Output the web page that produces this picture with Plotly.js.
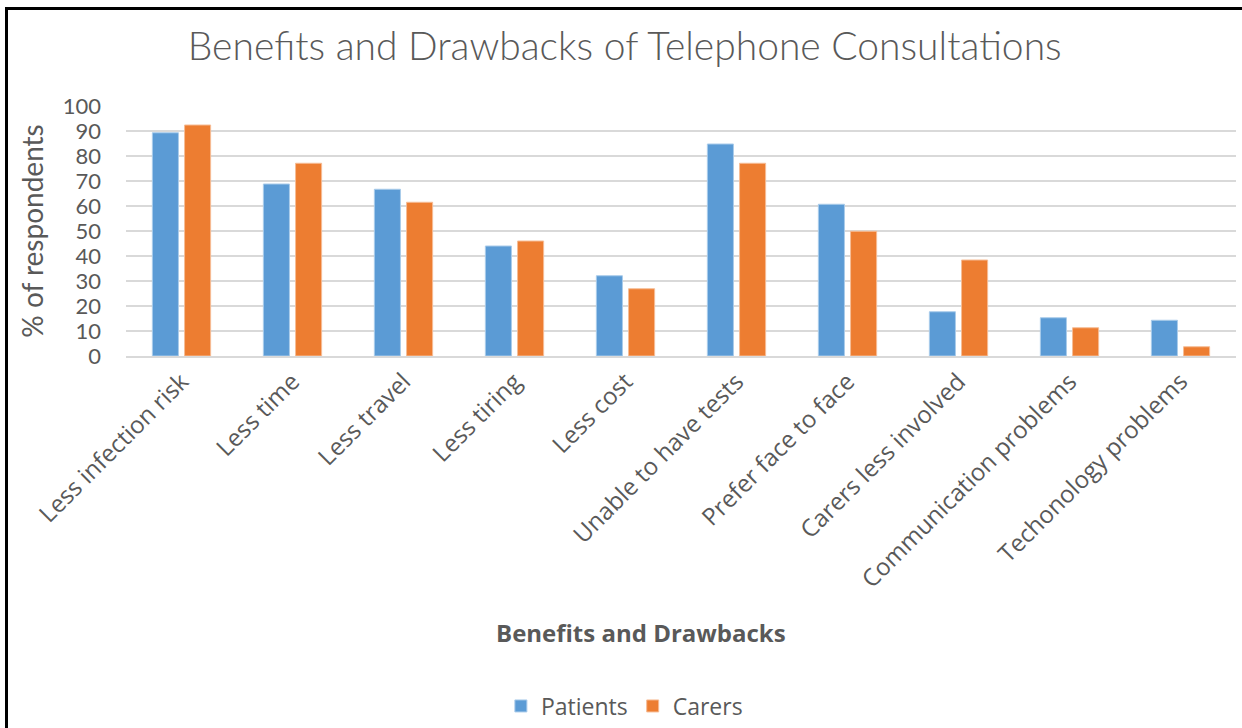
<!DOCTYPE html>
<html>
<head>
<meta charset="utf-8">
<script src="https://cdn.plot.ly/plotly-3.0.1.min.js"></script>
<style>
  html, body { margin: 0; padding: 0; background: #fff; }
  #wrap { position: relative; width: 1242px; height: 728px; overflow: hidden; }
  #chart { position: absolute; left: 0; top: 0; width: 1242px; height: 728px; }
  #frame { position: absolute; left: 5px; top: 7px; width: 1250px; height: 740px;
           border-left: 3px solid #000; border-top: 3px solid #000; pointer-events: none; }
</style>
</head>
<body>
<div id="wrap">
  <div id="chart"></div>
  <div id="frame"></div>
</div>
<script>
const categories = ["Less infection risk", "Less time", "Less travel", "Less tiring", "Less cost",
  "Unable to have tests", "Prefer face to face", "Carers less involved",
  "Communication problems", "Techonology problems"];
const patients = [89.3, 68.8, 66.7, 44.0, 32.1, 84.8, 60.7, 17.7, 15.3, 14.3];
const carers   = [92.4, 77.1, 61.5, 46.0, 26.9, 77.1, 49.9, 38.4, 11.3, 3.7];
const yTicks = [0, 10, 20, 30, 40, 50, 60, 70, 80, 90, 100];

const gray = "#595959";
const traces = [
  { type: "bar", name: "Patients", x: categories, y: patients,
    marker: { color: "#5B9BD5", line: { color: "#A9CBEA", width: 1 } }, hoverinfo: "y" },
  { type: "bar", name: "Carers", x: categories, y: carers,
    marker: { color: "#ED7D31", line: { color: "#F6BC95", width: 1 } }, hoverinfo: "y" }
];

const layout = {
  width: 1242, height: 728,
  margin: { l: 126, r: 6, t: 106, b: 372, pad: 0, autoexpand: false },
  paper_bgcolor: "#fff", plot_bgcolor: "#fff",
  font: { family: "Lato, 'Open Sans', sans-serif", color: gray },
  title: { text: "Benefits and Drawbacks of Telephone Consultations",
    font: { family: "Lato, sans-serif", size: 39, color: gray, weight: 300 },
    x: 0.503, xanchor: "center", y: 0.937, yanchor: "middle", xref: "container", yref: "container" },
  barmode: "group", bargap: 0.42, bargroupgap: 0.19,
  showlegend: true,
  legend: { orientation: "h", x: 0.449, xanchor: "center", y: -1.40, yanchor: "middle",
    font: { family: "'Open Sans', sans-serif", size: 23, color: gray }, itemwidth: 30, traceorder: "normal" },
  xaxis: {
    type: "category", tickangle: -45, automargin: false,
    tickfont: { family: "'Open Sans', sans-serif", size: 24, color: gray },
    showgrid: false, showline: true, linecolor: "#D9D9D9", linewidth: 2, ticks: ""
  },
  yaxis: {
    range: [0, 100], tickvals: yTicks, ticktext: yTicks.map(String), automargin: false,
    tickfont: { family: "Lato, sans-serif", size: 22, color: gray },
    showgrid: true, gridcolor: "#D9D9D9", gridwidth: 2, zeroline: false, showline: false, ticks: "",
    ticklabelstandoff: 24,
    title: { text: "% of respondents", font: { family: "Lato, sans-serif", size: 28, color: gray }, standoff: 10 }
  },
  annotations: [{
    text: "Benefits and Drawbacks", xref: "paper", yref: "paper",
    x: 0.464, y: -1.104, xanchor: "center", yanchor: "middle", showarrow: false,
    font: { family: "'Open Sans', sans-serif", size: 24, color: gray, weight: 700 }
  }]
};

Plotly.newPlot("chart", traces, layout, { displayModeBar: false, staticPlot: true });
</script>
</body>
</html>
